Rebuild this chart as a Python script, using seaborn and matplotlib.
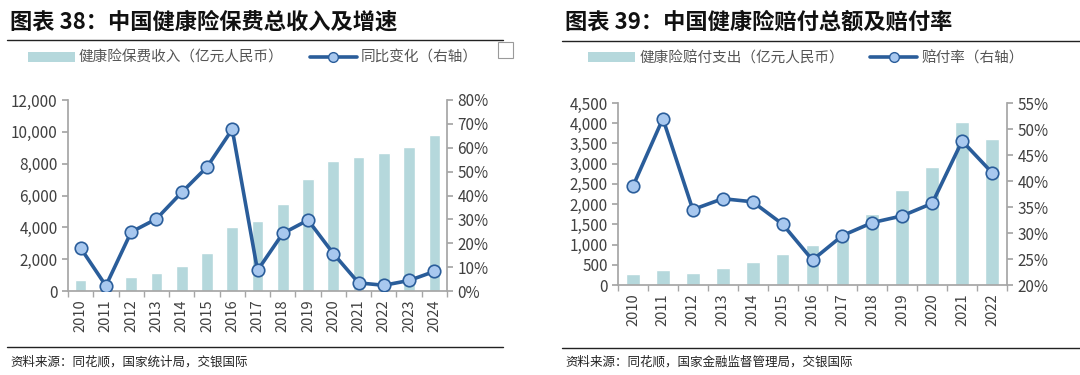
import numpy as np
import pandas as pd
import seaborn as sns
import matplotlib.pyplot as plt
from matplotlib.patches import Patch, Rectangle
from matplotlib.lines import Line2D
from matplotlib.ticker import FuncFormatter, MultipleLocator, FixedLocator

# data
years_l = [str(y) for y in range(2010, 2025)]
premium = [677, 692, 863, 1123, 1587, 2410, 4042, 4389, 5448, 7066, 8173, 8447, 8653, 9035, 9773]
premium_yoy = [18.0, 2.2, 24.7, 30.2, 41.3, 51.9, 67.7, 8.6, 24.1, 29.7, 15.7, 3.4, 2.4, 4.4, 8.2]

years_r = [str(y) for y in range(2010, 2023)]
claims = [264, 360, 298, 411, 571, 763, 1001, 1295, 1744, 2351, 2921, 4029, 3600]
claim_ratio = [39.0, 52.0, 34.5, 36.6, 36.0, 31.7, 24.8, 29.5, 32.0, 33.3, 35.7, 47.7, 41.6]

sns.set_theme(style="white")
plt.rcParams['font.family'] = ['Noto Sans CJK SC', 'DejaVu Sans']

BAR = '#b5d8dc'
LINE = '#2a5d9a'
MFACE = '#a8c8ef'
TXT = '#404040'
SPINE = '#a6a6a6'

fig = plt.figure(figsize=(10.8, 3.75), dpi=100)
W, H = 1080, 375


def px(x0, y0, x1, y1):
    return [x0 / W, 1 - y1 / H, (x1 - x0) / W, (y1 - y0) / H]


def draw_panel(rect, years, bars, rate, ymax, ystep, rlim, rstep):
    ax = fig.add_axes(rect)
    df = pd.DataFrame({'year': years, 'val': bars})
    sns.barplot(data=df, x='year', y='val', color=BAR, width=0.46, saturation=1, ax=ax)
    n = len(years)
    ax.set_xlim(-0.5, n - 0.5)
    ax.set_ylim(0, ymax)
    ax.yaxis.set_major_locator(MultipleLocator(ystep))
    ax.yaxis.set_major_formatter(FuncFormatter(lambda v, p: f'{v:,.0f}'))
    ax.set_xlabel('')
    ax.set_ylabel('')
    ax.xaxis.set_minor_locator(FixedLocator(np.arange(-0.5, n, 1)))
    ax.tick_params(axis='x', which='major', length=0, rotation=90, labelsize=10.5, colors=TXT, pad=6)
    ax.tick_params(axis='x', which='minor', length=4, color=SPINE, direction='out', bottom=True)
    ax.tick_params(axis='y', length=4, color=SPINE, direction='out', left=True, labelsize=11, colors=TXT)
    for s in ['top', 'right']:
        ax.spines[s].set_visible(False)
    for s in ['left', 'bottom']:
        ax.spines[s].set_color(SPINE)

    ax2 = ax.twinx()
    sns.lineplot(x=np.arange(n), y=rate, ax=ax2, color=LINE, linewidth=2.6,
                 marker='o', markersize=9, markerfacecolor=MFACE,
                 markeredgecolor=LINE, markeredgewidth=1.2)
    ax2.set_ylim(*rlim)
    ax2.yaxis.set_major_locator(MultipleLocator(rstep))
    ax2.yaxis.set_major_formatter(FuncFormatter(lambda v, p: f'{v:.0f}%'))
    ax2.tick_params(axis='y', length=4, color=SPINE, direction='out', right=True, labelsize=11, colors=TXT)
    for s in ['top', 'left', 'bottom']:
        ax2.spines[s].set_visible(False)
    ax2.spines['right'].set_color(SPINE)
    ax2.set_xlim(-0.5, n - 0.5)
    return ax, ax2


draw_panel(px(68, 100, 447, 291), years_l, premium, premium_yoy, 12000, 2000, (0, 80), 10)
draw_panel(px(618, 103, 1007, 285), years_r, claims, claim_ratio, 4500, 500, (20, 55), 5)

# titles and rules
fig.text(10 / W, 1 - 22 / H, '图表 38：中国健康险保费总收入及增速', fontsize=16,
         fontweight='bold', color='#111111', va='center')
fig.text(565 / W, 1 - 22 / H, '图表 39：中国健康险赔付总额及赔付率', fontsize=16,
         fontweight='bold', color='#111111', va='center')
for x0, x1, y in [(7, 503, 40), (562, 1080, 41), (7, 503, 347), (562, 1080, 348)]:
    fig.add_artist(Line2D([x0 / W, x1 / W], [1 - y / H, 1 - y / H], color='#222222', linewidth=1))

fig.add_artist(Rectangle((498 / W, 1 - 58 / H), 15 / W, 16 / H, fill=False,
                         edgecolor='#9a9a9a', linewidth=0.8))

# legends
def legend(cx, bar_label, line_label):
    handles = [Patch(facecolor=BAR, edgecolor='none', label=bar_label),
               Line2D([], [], color=LINE, linewidth=2.6, marker='o', markersize=7,
                      markerfacecolor=MFACE, markeredgecolor=LINE, label=line_label)]
    fig.legend(handles=handles, loc='center', bbox_to_anchor=(cx / W, 1 - 58 / H), ncol=2,
               frameon=False, fontsize=10.5, handlelength=3.2, handleheight=0.6,
               columnspacing=1.8, handletextpad=0.3, labelcolor='#555555')


legend(253, '健康险保费收入（亿元人民币）', '同比变化（右轴）')
legend(806, '健康险赔付支出（亿元人民币）', '赔付率（右轴）')

# sources
fig.text(10 / W, 1 - 362 / H, '资料来源：同花顺，国家统计局，交银国际', fontsize=9,
         style='italic', color='#222222', va='center')
fig.text(565 / W, 1 - 362 / H, '资料来源：同花顺，国家金融监督管理局，交银国际', fontsize=9,
         style='italic', color='#222222', va='center')

fig.savefig('out.png', dpi=100)
